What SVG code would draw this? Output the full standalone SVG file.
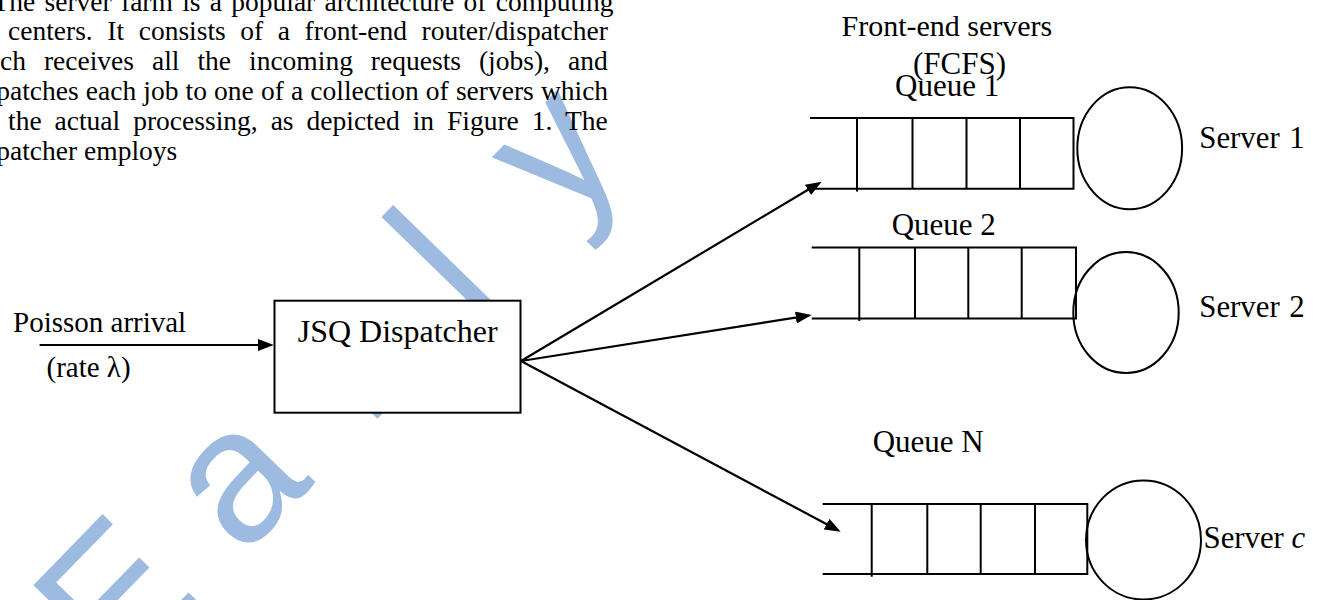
<svg xmlns="http://www.w3.org/2000/svg" width="1322" height="600" viewBox="0 0 1322 600">
  <style>
    .para { font-family: "Liberation Serif", "Times New Roman", serif; font-size: 27.5px; fill: #000; }
    .lbl { font-family: "Liberation Serif", "Times New Roman", serif; fill: #000; }
    .wm { font-family: "Liberation Sans", Arial, sans-serif; font-size: 190px; fill: #9dbbe0; }
    .ln { fill: none; stroke: #000; stroke-width: 2; }
    .box { fill: #fff; stroke: #000; stroke-width: 2; }
    .conn { fill: none; stroke: #000; stroke-width: 2.2; marker-end: url(#head); }
  </style>
  <defs>
    <marker id="head" markerUnits="userSpaceOnUse" markerWidth="16" markerHeight="12" refX="6" refY="6" orient="auto">
      <path d="M0,0 L16,6 L0,12 z" fill="#000"/>
    </marker>
  </defs>

  <rect width="1322" height="600" fill="#fff"/>

  <!-- background watermark -->
  <g id="watermark">
    <text class="wm" transform="translate(242 558) rotate(-45.8)" x="-180.5 0 181 329 461" y="0">Early</text>
  </g>

  <!-- running text above the figure -->
  <g id="paragraph" class="para">
    <text x="-7.5" y="11" word-spacing="2.4">The server farm is a popular architecture of computing</text>
    <text x="8" y="40" word-spacing="7.7">centers. It consists of a front-end router/dispatcher</text>
    <text x="0" y="70" word-spacing="11.1">ch receives all the incoming requests (jobs), and</text>
    <text x="-3.75" y="100" word-spacing="0.25">patches each job to one of a collection of servers which</text>
    <text x="8" y="130" word-spacing="6.1">the actual processing, as depicted in Figure 1. The</text>
    <text x="-3.75" y="160">patcher employs</text>
  </g>

  <!-- arrival source -->
  <g id="arrival">
    <text class="lbl" x="13" y="331.7" font-size="29">Poisson arrival</text>
    <text class="lbl" x="46.5" y="377.3" font-size="29">(rate λ)</text>
  </g>

  <!-- dispatcher -->
  <g id="dispatcher">
    <rect class="box" x="274.5" y="300.7" width="246" height="112"/>
    <text class="lbl" x="297.7" y="341.7" font-size="32">JSQ Dispatcher</text>
  </g>

  <!-- server pool heading -->
  <g id="pool-title">
    <text class="lbl" x="841.5" y="36" font-size="30">Front-end servers</text>
    <text class="lbl" x="913" y="74" font-size="31">(FCFS)</text>
  </g>

  <!-- queue 1 and server 1 -->
  <g id="queue1">
    <text class="lbl" x="895" y="96" font-size="31">Queue 1</text>
    <path class="ln" d="M810,118 H1073.5 V188.7 H810 M857,118 V191.5 M912.5,118 V188.7 M966.5,118 V188.7 M1020,118 V188.7"/>
    <ellipse class="ln" cx="1129.7" cy="148.3" rx="52.4" ry="61"/>
    <text class="lbl" x="1199.3" y="148.3" font-size="30.8" word-spacing="2">Server 1</text>
  </g>

  <!-- queue 2 and server 2 -->
  <g id="queue2">
    <text class="lbl" x="891.7" y="235" font-size="31">Queue 2</text>
    <path class="ln" d="M811.7,247.5 H1076 V318.5 H811.7 M859.3,247.5 V321 M915,247.5 V318.5 M968.3,247.5 V318.5 M1021.7,247.5 V318.5"/>
    <ellipse class="ln" cx="1126" cy="312.5" rx="52.7" ry="60.5"/>
    <text class="lbl" x="1199.3" y="316.7" font-size="30.8" word-spacing="2">Server 2</text>
  </g>

  <!-- queue N and server c -->
  <g id="queueN">
    <text class="lbl" x="872.7" y="451.7" font-size="31">Queue N</text>
    <path class="ln" d="M822.7,504 H1087.3 V574 H822.7 M871.7,504 V576.7 M927.3,504 V574 M980.7,504 V574 M1035,504 V574"/>
    <ellipse class="ln" cx="1143.5" cy="540" rx="57.5" ry="59.5"/>
    <text class="lbl" x="1203.5" y="548.3" font-size="30.8">Server <tspan font-style="italic">c</tspan></text>
  </g>

  <!-- connectors -->
  <g id="connectors">
    <line class="conn" x1="39.6" y1="345" x2="263.8" y2="345"/>
    <line class="conn" x1="521" y1="361" x2="813.1" y2="186.8"/>
    <line class="conn" x1="521" y1="361" x2="801.8" y2="316.6"/>
    <line class="conn" x1="521" y1="361" x2="831.9" y2="527"/>
  </g>
</svg>
